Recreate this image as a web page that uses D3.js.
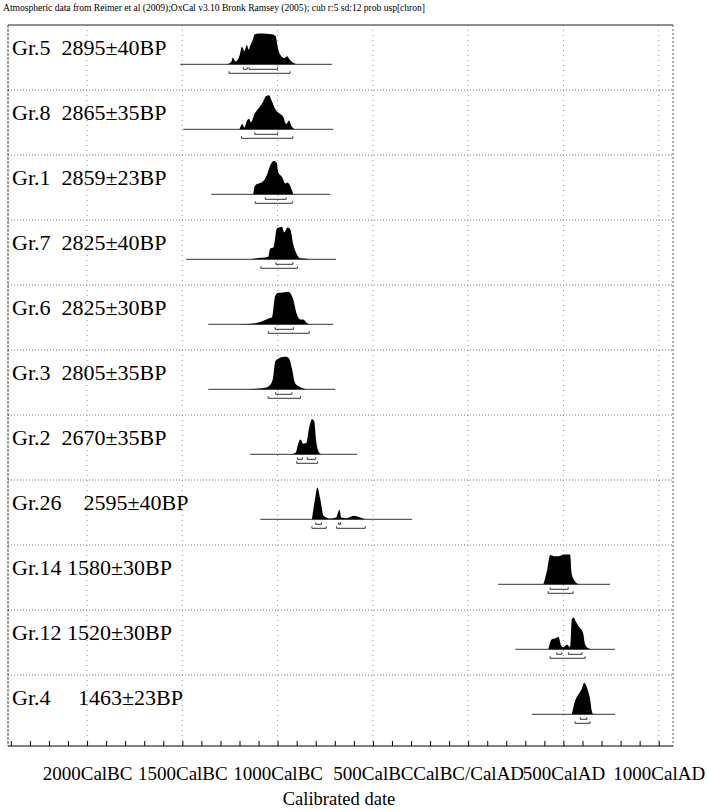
<!DOCTYPE html>
<html>
<head>
<meta charset="utf-8">
<script src="https://cdn.jsdelivr.net/npm/d3@7"></script>
<style>
  body { margin: 0; background: #fff; }
  text { font-family: "Liberation Serif", "Times New Roman", serif; fill: #000; }
</style>
</head>
<body>
<div id="chart"></div>
<script>
// row labels, top to bottom (spacing as in the original)
const labels = ["Gr.5  2895±40BP", "Gr.8  2865±35BP", "Gr.1  2859±23BP", "Gr.7  2825±40BP", "Gr.6  2825±30BP",
                "Gr.3  2805±35BP", "Gr.2  2670±35BP", "Gr.26    2595±40BP", "Gr.14 1580±30BP", "Gr.12 1520±30BP",
                "Gr.4     1463±23BP"];

// probability curves, [calendar year (BC negative), relative density]
const gr5 = [[-1270,0],[-1245,0.05],[-1235,0.19],[-1220,0.08],[-1200,0.25],[-1187,0.5],[-1175,0.38],[-1161,0.55],
             [-1152,0.42],[-1144,0.53],[-1130,0.7],[-1120,0.86],[-1100,0.88],[-1060,0.87],[-1030,0.86],[-1010,0.8],
             [-1000,0.5],[-986,0.27],[-965,0.18],[-950,0.23],[-935,0.12],[-910,0.02],[-900,0]];
const gr8 = [[-1200,0],[-1185,0.15],[-1175,0.05],[-1160,0.25],[-1150,0.3],[-1140,0.2],[-1120,0.45],[-1100,0.6],
             [-1080,0.75],[-1060,0.95],[-1045,0.97],[-1030,0.8],[-1010,0.55],[-990,0.45],[-970,0.35],[-955,0.15],
             [-940,0.25],[-928,0.1],[-910,0]];
const gr1 = [[-1128,0],[-1118,0.25],[-1076,0.37],[-1055,0.57],[-1039,0.82],[-1020,0.95],[-1005,0.9],[-997,0.63],[-976,0.49],
             [-960,0.31],[-949,0.34],[-923,0.09],[-918,0]];
const gr7 = [[-1140,0],[-1118,0.02],[-1049,0.07],[-1039,0.31],[-1022,0.34],[-1004,0.88],[-992,0.91],[-978,0.93],
             [-965,0.77],[-948,0.91],[-934,0.86],[-918,0.43],[-899,0.14],[-881,0.03],[-839,0.01],[-830,0]];
const gr6 = [[-1196,0],[-1118,0.03],[-1049,0.16],[-1030,0.2],[-1013,0.81],[-997,0.9],[-971,0.91],[-944,0.93],
             [-918,0.71],[-899,0.29],[-881,0.14],[-866,0.14],[-845,0.03],[-829,0]];
const gr3 = [[-1160,0],[-1100,0.02],[-1060,0.05],[-1040,0.12],[-1025,0.3],[-1012,0.8],[-995,0.88],[-975,0.92],[-955,0.93],
             [-940,0.88],[-925,0.6],[-910,0.2],[-895,0.1],[-870,0.04],[-850,0]];
const gr2 = [[-930,0],[-905,0.05],[-892,0.3],[-880,0.42],[-865,0.3],[-850,0.32],[-835,0.75],[-820,1.0],[-808,0.95],
             [-798,0.4],[-785,0.08],[-770,0]];
const gr26 = [[-820,0],[-803,0.6],[-791,0.91],[-777,0.6],[-759,0.1],[-724,0.02],[-693,0.05],[-675,0.27],[-666,0.05],
              [-636,0.03],[-602,0.1],[-567,0.05],[-540,0]];
const gr14 = [[395,0],[413,0.37],[430,0.84],[456,0.8],[483,0.81],[500,0.85],[535,0.85],[544,0.29],[561,0.09],[579,0]];
const gr12 = [[421,0],[439,0.29],[456,0.31],[474,0.35],[488,0.11],[500,0.06],[518,0.14],[535,0.07],[544,0.86],
              [553,0.91],[567,0.77],[584,0.63],[602,0.49],[614,0.14],[631,0.03],[649,0]];
const gr4 = [[544,0],[561,0.38],[579,0.57],[597,0.74],[609,0.9],[623,0.77],[631,0.63],[640,0.43],[649,0.09],[657,0]];
const curves = [gr5, gr8, gr1, gr7, gr6, gr3, gr2, gr26, gr14, gr12, gr4];

// extent of the thin base line under each curve
const lineSpans = [[-1511,-714],[-1495,-708],[-1348,-724],[-1480,-693],[-1364,-708],[-1364,-698],
                   [-1144,-582],[-1091,-295],[157,745],[247,771],[334,771]];
// 68.2% and 95.4% ranges
const range68 = [[[-1180,-1160],[-1150,-1000]], [[-1120,-1000]], [[-1065,-955]], [[-1009,-920]], [[-1013,-917]],
                 [[-1010,-925]], [[-895,-870],[-845,-800]], [[-800,-770],[-680,-670]], [[430,525]],
                 [[465,492],[526,597]], [[588,623]]];
const range95 = [[[-1255,-935]], [[-1190,-920]], [[-1118,-923]], [[-1088,-896]], [[-1049,-834]],
                 [[-1050,-880]], [[-900,-790]], [[-820,-745],[-690,-540]], [[420,551]], [[430,614]], [[561,640]]];

const gridYears = [-2000, -1500, -1000, -500, 0, 500, 1000];
const tickYears = d3.range(-2400, 1001, 100);

const width = 707, height = 810;
const padL = 8, padR = 673, padT = 25, padB = 746, rowH = 65;

const svg = d3.select("#chart").append("svg")
    .attr("width", width)
    .attr("height", height);

const x = d3.scaleLinear().domain([-2415, 1075]).range([padL, padR]);
const h = d3.scaleLinear().domain([0, 1]).range([0, 35]);

svg.append("text")
    .attr("x", 3)
    .attr("y", 11)
    .attr("font-size", "9.6px")
    .attr("textLength", 422)
    .text("Atmospheric data from Reimer et al (2009);OxCal v3.10 Bronk Ramsey (2005); cub r:5 sd:12 prob usp[chron]");

// grid
svg.append("g").selectAll("line")
    .data(gridYears)
    .enter().append("line")
    .attr("x1", d => x(d)).attr("x2", d => x(d))
    .attr("y1", padT).attr("y2", padB)
    .attr("stroke", "#999")
    .attr("stroke-dasharray", "1,4");
svg.append("g").selectAll("line")
    .data(d3.range(1, labels.length))
    .enter().append("line")
    .attr("x1", padL).attr("x2", padR)
    .attr("y1", i => padT + i * rowH).attr("y2", i => padT + i * rowH)
    .attr("stroke", "#777")
    .attr("stroke-dasharray", "1,2");

// frame
svg.append("line").attr("x1", padL).attr("x2", padR).attr("y1", padT).attr("y2", padT)
    .attr("stroke", "#222").attr("stroke-width", 1.2);
svg.append("line").attr("x1", padL).attr("x2", padL).attr("y1", padT).attr("y2", padB)
    .attr("stroke", "#444").attr("stroke-dasharray", "3,1");
svg.append("line").attr("x1", padR).attr("x2", padR).attr("y1", padT).attr("y2", padB)
    .attr("stroke", "#666").attr("stroke-dasharray", "2,2");

const rows = svg.append("g").selectAll("g")
    .data(labels)
    .enter().append("g")
    .attr("transform", (_, i) => `translate(0,${padT + i * rowH})`);

rows.append("text")
    .attr("x", 12)
    .attr("y", 30)
    .attr("font-size", "22px")
    .style("white-space", "pre")
    .text(d => d);

const base = 39.3;
rows.append("line")
    .attr("x1", (_, i) => x(lineSpans[i][0]))
    .attr("x2", (_, i) => x(lineSpans[i][1]))
    .attr("y1", base).attr("y2", base)
    .attr("stroke", "#000").attr("stroke-width", 0.8);

const area = d3.area()
    .curve(d3.curveMonotoneX)
    .x(d => x(d[0]))
    .y0(base)
    .y1(d => base - h(d[1]));
rows.append("path")
    .attr("fill", "#000")
    .attr("d", (_, i) => area(curves[i]));

function brackets(sel, ranges, yOff) {
    sel.each(function (_, i) {
        let g = d3.select(this);
        ranges[i].forEach(r => {
            g.append("path")
                .attr("fill", "none")
                .attr("stroke", "#000")
                .attr("stroke-width", 0.8)
                .attr("d", `M${x(r[0])},${base + yOff - 2}V${base + yOff}H${x(r[1])}V${base + yOff - 2}`);
        });
    });
}
brackets(rows, range68, 5);
brackets(rows, range95, 9);

// axis
const axis = d3.axisBottom(x)
    .tickValues(tickYears)
    .tickSize(-5)
    .tickPadding(21)
    .tickFormat(d => d % 500 != 0 ? "" : d < 0 ? (-d) + "CalBC" : d == 0 ? "CalBC/CalAD" : d + "CalAD");
const ax = svg.append("g")
    .attr("transform", `translate(0,${padB})`)
    .call(axis);
ax.select(".domain").attr("d", `M${padL},0H${padR}`).attr("stroke", "#000");
ax.selectAll("text")
    .attr("font-size", "19px")
    .attr("font-family", "Liberation Serif, serif")
    .attr("fill", "#000");

svg.append("text")
    .attr("x", 339)
    .attr("y", 805)
    .attr("text-anchor", "middle")
    .attr("font-size", "18.5px")
    .text("Calibrated date");
</script>
</body>
</html>
